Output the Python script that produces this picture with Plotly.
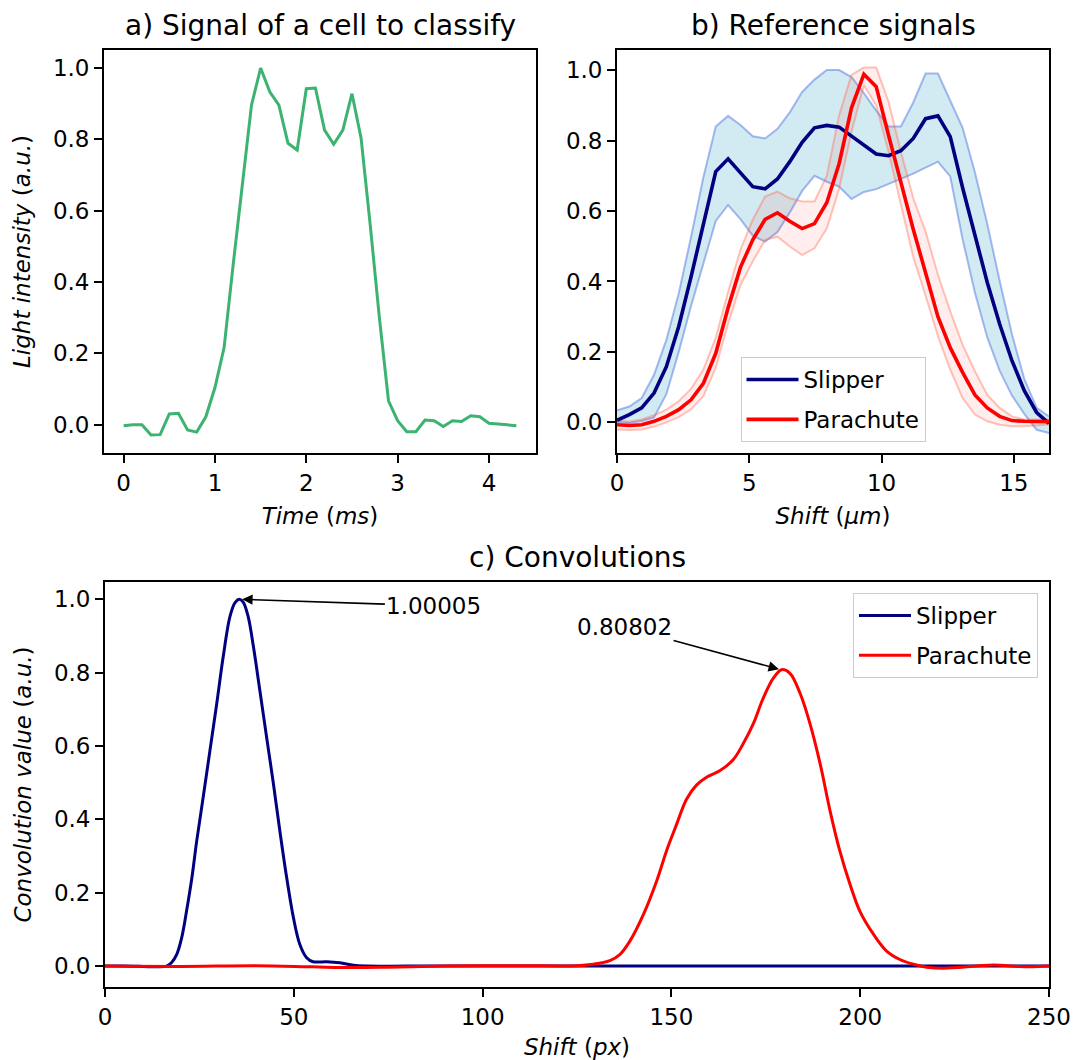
import plotly.graph_objects as go

# ---------------- data ----------------
# a) signal of a cell to classify
time_ms = [0.0, 0.1, 0.2, 0.3, 0.4, 0.5, 0.6, 0.7, 0.8, 0.9,
           1.0, 1.1, 1.2, 1.3, 1.4, 1.5, 1.6, 1.7, 1.8, 1.9,
           2.0, 2.1, 2.2, 2.3, 2.4, 2.5, 2.6, 2.7, 2.8, 2.9,
           3.0, 3.1, 3.2, 3.3, 3.4, 3.5, 3.6, 3.7, 3.8, 3.9,
           4.0, 4.1, 4.2, 4.3]
cell_signal = [-0.003, 0.0, 0.0, -0.029, -0.028, 0.030, 0.032, -0.015, -0.021, 0.022,
               0.104, 0.216, 0.45, 0.68, 0.896, 1.0, 0.933, 0.896, 0.789, 0.770,
               0.942, 0.944, 0.826, 0.786, 0.826, 0.928, 0.803, 0.56, 0.30, 0.067,
               0.011, -0.02, -0.02, 0.013, 0.011, -0.005, 0.011, 0.009, 0.025, 0.022,
               0.004, 0.002, 0.0, -0.003]

# b) reference signals (36 samples over 0 .. 16.33 um)
shift_um = [round(i * 16.33 / 35, 3) for i in range(36)]
slipper_mean = [0.006, 0.022, 0.041, 0.083, 0.158, 0.272, 0.413, 0.564, 0.712, 0.748,
                0.707, 0.669, 0.663, 0.691, 0.740, 0.795, 0.836, 0.843, 0.838, 0.813,
                0.785, 0.762, 0.757, 0.771, 0.806, 0.862, 0.870, 0.811, 0.666, 0.529,
                0.397, 0.279, 0.175, 0.090, 0.028, -0.003]
slipper_upper = [0.034, 0.045, 0.069, 0.135, 0.234, 0.366, 0.526, 0.696, 0.840, 0.870,
                 0.844, 0.812, 0.806, 0.833, 0.880, 0.938, 0.973, 1.0, 1.0, 0.98,
                 0.935, 0.885, 0.840, 0.840, 0.908, 0.990, 0.990, 0.912, 0.836, 0.709,
                 0.563, 0.402, 0.250, 0.123, 0.041, 0.017]
slipper_lower = [0.0, -0.002, 0.004, 0.014, 0.08, 0.20, 0.33, 0.45, 0.572, 0.617,
                 0.577, 0.530, 0.513, 0.540, 0.596, 0.657, 0.700, 0.683, 0.669, 0.634,
                 0.654, 0.662, 0.676, 0.690, 0.706, 0.723, 0.740, 0.698, 0.52, 0.368,
                 0.241, 0.147, 0.076, 0.024, -0.021, -0.030]
parachute_mean = [-0.007, -0.009, -0.007, 0.003, 0.017, 0.036, 0.064, 0.111, 0.196, 0.325,
                  0.440, 0.518, 0.576, 0.595, 0.571, 0.550, 0.564, 0.624, 0.735, 0.893,
                  0.988, 0.953, 0.815, 0.678, 0.548, 0.425, 0.300, 0.212, 0.142, 0.078,
                  0.041, 0.017, 0.005, 0.003, 0.003, 0.002]
parachute_upper = [0.005, 0.002, 0.008, 0.02, 0.036, 0.06, 0.095, 0.15, 0.24, 0.37,
                   0.49, 0.575, 0.641, 0.655, 0.636, 0.627, 0.627, 0.70, 0.872, 0.986,
                   1.007, 1.007, 0.91, 0.768, 0.636, 0.542, 0.419, 0.315, 0.22, 0.145,
                   0.078, 0.041, 0.017, 0.008, 0.008, 0.008]
parachute_lower = [-0.02, -0.022, -0.02, -0.012, 0.0, 0.015, 0.037, 0.075, 0.155, 0.28,
                   0.39, 0.457, 0.518, 0.527, 0.499, 0.475, 0.494, 0.551, 0.664, 0.825,
                   0.957, 0.90, 0.768, 0.617, 0.47, 0.36, 0.245, 0.150, 0.069, 0.022,
                   0.003, -0.007, -0.011, -0.011, -0.009, -0.006]

# c) convolutions
conv_slipper_x = [0, 5, 10, 14, 16.3, 17.6, 19.0, 20.3, 21.6, 23.0, 24.3, 26.0, 27.8, 29.6,
                  31.3, 33.1, 34.4, 35.6, 36.6, 37.9, 39.3, 41.0, 42.8, 44.6, 46.3, 48.1,
                  49.9, 51.6, 53.4, 55.1, 58.7, 62.2, 65.8, 69.3, 80, 100, 130, 160, 200,
                  230, 250]
conv_slipper_y = [0.0, 0.0, -0.001, -0.002, 0.0, 0.009, 0.032, 0.077, 0.15, 0.24, 0.342, 0.46,
                  0.588, 0.716, 0.843, 0.953, 0.99, 1.00005, 0.992, 0.953, 0.871, 0.752, 0.624,
                  0.497, 0.369, 0.242, 0.132, 0.059, 0.023, 0.012, 0.012, 0.009, 0.002, 0.0,
                  0.0, 0.0, 0.0, 0.0, 0.0, 0.0, 0.0]
conv_parachute_x = [0, 20, 40, 55, 65, 75, 90, 110, 125, 129.3, 133.7, 136.4, 139.0, 142.6,
                    146.1, 148.7, 151.4, 154.0, 156.7, 159.3, 162.9, 166.4, 169.0, 171.7,
                    174.3, 177.0, 179.2, 181.4, 184.1, 186.7, 189.4, 192.0, 194.6, 197.3,
                    199.9, 203.5, 207.0, 210.5, 214.1, 217.6, 222.0, 230.9, 235.3, 244.1, 250]
conv_parachute_y = [0.0, -0.001, 0.001, -0.002, -0.004, -0.003, 0.0, 0.001, 0.001, 0.005,
                    0.015, 0.032, 0.068, 0.141, 0.232, 0.314, 0.387, 0.455, 0.494, 0.515,
                    0.533, 0.563, 0.606, 0.661, 0.730, 0.785, 0.80802, 0.798, 0.743, 0.661,
                    0.551, 0.424, 0.314, 0.223, 0.150, 0.087, 0.041, 0.018, 0.005, -0.003,
                    -0.006, 0.0, 0.003, -0.002, 0.0]
peak_labels = ["1.00005", "0.80802"]

# ---------------- styling ----------------
W, H = 1073, 1060
FONT = "DejaVu Sans"
FS = 23
NAVY = "#000080"
RED = "#ff0000"
GREEN = "#3cb371"


def px_x(p):
    return p / W


def px_y(p):
    return 1 - p / H


fig = go.Figure()

# panel a
fig.add_trace(go.Scatter(x=time_ms, y=cell_signal, mode="lines",
                         line=dict(color=GREEN, width=3), showlegend=False,
                         xaxis="x", yaxis="y"))

# panel b: bands
fig.add_trace(go.Scatter(x=shift_um, y=slipper_lower, mode="lines",
                         line=dict(color="rgba(65,105,225,0.45)", width=2),
                         showlegend=False, xaxis="x2", yaxis="y2"))
fig.add_trace(go.Scatter(x=shift_um, y=slipper_upper, mode="lines",
                         line=dict(color="rgba(65,105,225,0.45)", width=2),
                         fill="tonexty", fillcolor="rgba(173,216,230,0.55)",
                         showlegend=False, xaxis="x2", yaxis="y2"))
fig.add_trace(go.Scatter(x=shift_um, y=parachute_lower, mode="lines",
                         line=dict(color="rgba(255,99,71,0.38)", width=2),
                         showlegend=False, xaxis="x2", yaxis="y2"))
fig.add_trace(go.Scatter(x=shift_um, y=parachute_upper, mode="lines",
                         line=dict(color="rgba(255,99,71,0.38)", width=2),
                         fill="tonexty", fillcolor="rgba(255,40,30,0.08)",
                         showlegend=False, xaxis="x2", yaxis="y2"))
fig.add_trace(go.Scatter(x=shift_um, y=slipper_mean, mode="lines", name="Slipper",
                         line=dict(color=NAVY, width=3.6), legend="legend",
                         legendgroup="bs", xaxis="x2", yaxis="y2"))
fig.add_trace(go.Scatter(x=shift_um, y=parachute_mean, mode="lines", name="Parachute",
                         line=dict(color=RED, width=3.6), legend="legend",
                         legendgroup="bp", xaxis="x2", yaxis="y2"))

# panel c
fig.add_trace(go.Scatter(x=conv_slipper_x, y=conv_slipper_y, mode="lines", name="Slipper",
                         line=dict(color=NAVY, width=3, shape="spline", smoothing=1.0),
                         legend="legend2", legendgroup="cs", xaxis="x3", yaxis="y3"))
fig.add_trace(go.Scatter(x=conv_parachute_x, y=conv_parachute_y, mode="lines", name="Parachute",
                         line=dict(color=RED, width=3, shape="spline", smoothing=1.0),
                         legend="legend2", legendgroup="cp", xaxis="x3", yaxis="y3"))

axis_common = dict(showline=True, mirror=True, linecolor="black", linewidth=1.8,
                   ticks="outside", ticklen=8, tickwidth=1.8, tickcolor="black",
                   showgrid=False, zeroline=False, automargin=False,
                   tickfont=dict(family=FONT, size=FS, color="black"),
                   title_font=dict(family=FONT, size=FS, color="black"))

legend_common = dict(bgcolor="rgba(255,255,255,0.85)", bordercolor="#cccccc", borderwidth=1,
                     font=dict(family=FONT, size=FS, color="black"),
                     traceorder="grouped", tracegroupgap=7, itemwidth=52)

fig.update_layout(
    width=W, height=H,
    margin=dict(l=0, r=0, t=0, b=0),
    paper_bgcolor="white", plot_bgcolor="white",
    font=dict(family=FONT, size=FS, color="black"),
    xaxis=dict(domain=[px_x(104), px_x(536)], anchor="y", range=[-0.215, 4.515],
               tickvals=[0, 1, 2, 3, 4],
               title=dict(text="<i>Time</i> (<i>ms</i>)", standoff=13), **axis_common),
    yaxis=dict(domain=[px_y(453), px_y(50)], anchor="x", range=[-0.0795, 1.0505],
               tickvals=[0, 0.2, 0.4, 0.6, 0.8, 1.0], tickformat=".1f",
               title=dict(text="<i>Light intensity</i> (<i>a.u.</i>)", standoff=16),
               **axis_common),
    xaxis2=dict(domain=[px_x(617), px_x(1049)], anchor="y2", range=[0, 16.33],
                tickvals=[0, 5, 10, 15],
                title=dict(text="<i>Shift</i> (<i>μm</i>)", standoff=13), **axis_common),
    yaxis2=dict(domain=[px_y(453), px_y(50)], anchor="x2", range=[-0.087, 1.057],
                tickvals=[0, 0.2, 0.4, 0.6, 0.8, 1.0], tickformat=".1f", **axis_common),
    xaxis3=dict(domain=[px_x(105), px_x(1049)], anchor="y3", range=[0, 250],
                tickvals=[0, 50, 100, 150, 200, 250],
                title=dict(text="<i>Shift</i> (<i>px</i>)", standoff=12), **axis_common),
    yaxis3=dict(domain=[px_y(987), px_y(582)], anchor="x3", range=[-0.057, 1.047],
                tickvals=[0, 0.2, 0.4, 0.6, 0.8, 1.0], tickformat=".1f",
                title=dict(text="<i>Convolution value</i> (<i>a.u.</i>)", standoff=16),
                **axis_common),
    legend=dict(x=px_x(833), xanchor="center", y=px_y(442), yanchor="bottom",
                **legend_common),
    legend2=dict(x=px_x(1038), xanchor="right", y=px_y(593), yanchor="top",
                 **legend_common),
)

titles = [("a) Signal of a cell to classify", (104 + 536) / 2, 25),
          ("b) Reference signals", (617 + 1049) / 2, 25),
          ("c) Convolutions", (105 + 1049) / 2, 557)]
for text, cx, cy in titles:
    fig.add_annotation(text=text, x=px_x(cx), y=px_y(cy), xref="paper", yref="paper",
                       xanchor="center", yanchor="middle", showarrow=False,
                       font=dict(family=FONT, size=28, color="black"))

# peak annotations with arrows
peak_points = [(35.8, 1.00005, 87.1, 0.982), (179.0, 0.80802, 137.6, 0.924)]
for label, (hx, hy, tx, ty) in zip(peak_labels, peak_points):
    fig.add_annotation(text=label, x=hx, y=hy, ax=tx, ay=ty, xref="x3", yref="y3",
                       axref="x3", ayref="y3", showarrow=True, arrowhead=2,
                       arrowsize=1.3, arrowwidth=1.6, arrowcolor="black", standoff=2,
                       font=dict(family=FONT, size=FS, color="black"))

fig.write_html("out.html", config={"displayModeBar": False},
               post_script="document.body.style.margin='0';"
                           "document.body.style.overflow='hidden';")
